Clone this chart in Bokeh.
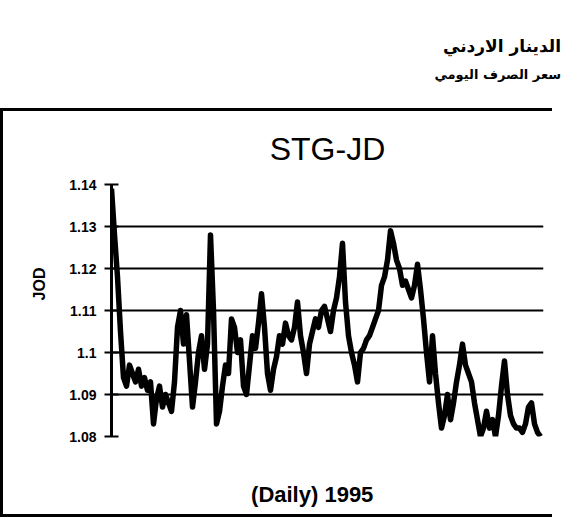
from bokeh.plotting import figure
from bokeh.models import Range1d, FixedTicker, Div, Column, Title
from bokeh.embed import file_html
from bokeh.resources import INLINE

title_text = "STG-JD"
x_label = "(Daily) 1995"
y_label = "JOD"
header_1 = "الدينار الاردني"
header_2 = "سعر الصرف اليومي"

y_ticks = [1.08, 1.09, 1.10, 1.11, 1.12, 1.13, 1.14]
y_tick_labels = ["1.08", "1.09", "1.1", "1.11", "1.12", "1.13", "1.14"]

stg_jd = [
    1.139, 1.128, 1.118, 1.105, 1.094, 1.092, 1.097, 1.095, 1.093, 1.096,
    1.092, 1.094, 1.091, 1.093, 1.083, 1.089, 1.092, 1.087, 1.090, 1.088,
    1.086, 1.093, 1.106, 1.110, 1.102, 1.109, 1.098, 1.087, 1.093, 1.100,
    1.104, 1.096, 1.102, 1.128, 1.110, 1.083, 1.086, 1.092, 1.097, 1.095,
    1.108, 1.106, 1.100, 1.103, 1.092, 1.090, 1.097, 1.104, 1.101, 1.107,
    1.114, 1.106, 1.095, 1.091, 1.096, 1.099, 1.104, 1.102, 1.107, 1.104,
    1.103, 1.106, 1.112, 1.104, 1.100, 1.095, 1.102, 1.105, 1.108, 1.106,
    1.110, 1.111, 1.108, 1.105, 1.110, 1.113, 1.118, 1.126, 1.112, 1.104,
    1.100, 1.097, 1.093, 1.100, 1.101, 1.103, 1.104, 1.106, 1.108, 1.110,
    1.116, 1.118, 1.122, 1.129, 1.126, 1.122, 1.120, 1.116, 1.117, 1.115,
    1.113, 1.116, 1.121, 1.115, 1.108, 1.100, 1.093, 1.104, 1.095, 1.088,
    1.082, 1.085, 1.090, 1.084, 1.088, 1.093, 1.097, 1.102, 1.097, 1.095,
    1.093, 1.088, 1.084, 1.080, 1.082, 1.086, 1.082, 1.084, 1.080, 1.085,
    1.092, 1.098, 1.090, 1.085, 1.083, 1.082, 1.082, 1.081, 1.083, 1.087,
    1.088, 1.083, 1.081, 1.080,
]
days = list(range(len(stg_jd)))

FONT = "Liberation Sans"

p = figure(
    width=552, height=409,
    output_backend="svg", toolbar_location=None,
    x_range=Range1d(0, 144), y_range=Range1d(1.08, 1.14),
    min_border_left=108, min_border_right=12,
    min_border_top=73, min_border_bottom=84,
    background_fill_color="white", border_fill_color="white",
    title=title_text,
)
p.outline_line_color = None
p.styles = {
    "border-top": "3px solid black",
    "border-left": "3px solid black",
    "border-bottom": "3px solid black",
}

p.title.align = "center"
p.title.text_font = FONT
p.title.text_font_style = "normal"
p.title.text_font_size = "32px"
p.title.text_color = "black"
p.title.standoff = 35

p.line(days, stg_jd, line_color="black", line_width=5.5, line_join="round")

# x axis: only its caption is shown (nbsp padding shifts it left like the original)
xax = p.xaxis[0]
xax.axis_line_color = None
xax.major_tick_line_color = None
xax.minor_tick_line_color = None
xax.major_label_text_color = None
xax.major_label_text_font_size = "1px"
xax.axis_label = x_label + "\u00a0" * 5
xax.axis_label_text_font = FONT
xax.axis_label_text_font_style = "bold"
xax.axis_label_text_font_size = "22px"
xax.axis_label_text_color = "black"
xax.axis_label_standoff = 39
p.xgrid.visible = False

yax = p.yaxis[0]
yax.ticker = FixedTicker(ticks=y_ticks)
yax.major_label_overrides = {t: l for t, l in zip(y_ticks, y_tick_labels)}
yax.minor_tick_line_color = None
yax.major_tick_in = 7
yax.major_tick_out = 7
yax.major_tick_line_width = 2
yax.major_tick_line_color = "black"
yax.axis_line_width = 3
yax.axis_line_color = "black"
yax.major_label_text_font = FONT
yax.major_label_text_font_style = "bold"
yax.major_label_text_font_size = "14px"
yax.major_label_text_color = "black"
yax.major_label_standoff = 8

p.ygrid.ticker = FixedTicker(ticks=y_ticks)
p.ygrid.grid_line_color = "black"
p.ygrid.grid_line_width = 2

# y-axis caption (side title, so it can sit above the frame centre)
p.add_layout(Title(text=y_label, align="right", offset=83,
                   vertical_align="middle", standoff=36,
                   text_font=FONT, text_font_style="bold",
                   text_font_size="16px", text_color="black"), "left")

header = Div(
    text=(
        "<div style='width:556px;direction:rtl;text-align:left;font-family:\"DejaVu Sans\";"
        "font-weight:bold;color:black;white-space:nowrap;'>"
        f"<div style='font-size:17px;line-height:20px;margin-top:31px;padding-left:444px;'>{header_1}</div>"
        f"<div style='font-size:13px;line-height:15px;margin-top:11px;padding-left:447px;'>{header_2}</div>"
        "</div>"
    ),
    width=556, height=98,
)

layout = Column(header, p, spacing=0)
open("out.html", "w").write(file_html(layout, INLINE))
